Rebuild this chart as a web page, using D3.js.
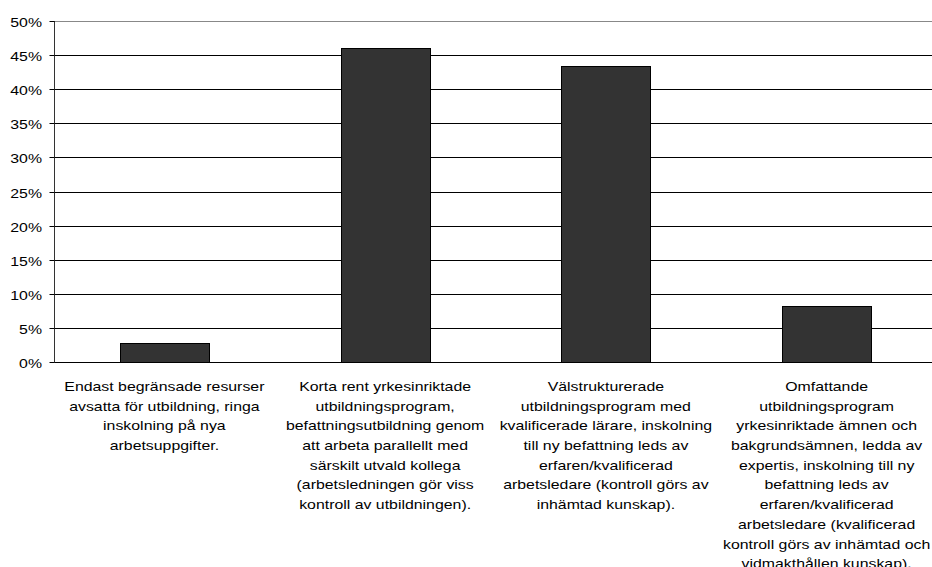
<!DOCTYPE html>
<html>
<head>
<meta charset="utf-8">
<script src="https://cdn.jsdelivr.net/npm/d3@7"></script>
<style>
  html, body { margin: 0; padding: 0; background: #fff; }
  svg { display: block; }
  text { font-family: "Liberation Sans", Arial, Helvetica, sans-serif; fill: #000; }
</style>
</head>
<body>
<svg id="chart" width="932" height="567"></svg>
<script>
// ---- Data ----
const categories = [
  ["Endast begränsade resurser", "avsatta för utbildning, ringa", "inskolning på nya", "arbetsuppgifter."],
  ["Korta rent yrkesinriktade", "utbildningsprogram,", "befattningsutbildning genom", "att arbeta parallellt med", "särskilt utvald kollega", "(arbetsledningen gör viss", "kontroll av utbildningen)."],
  ["Välstrukturerade", "utbildningsprogram med", "kvalificerade lärare, inskolning", "till ny befattning leds av", "erfaren/kvalificerad", "arbetsledare (kontroll görs av", "inhämtad kunskap)."],
  ["Omfattande", "utbildningsprogram", "yrkesinriktade ämnen och", "bakgrundsämnen, ledda av", "expertis, inskolning till ny", "befattning leds av", "erfaren/kvalificerad", "arbetsledare (kvalificerad", "kontroll görs av inhämtad och", "vidmakthållen kunskap)."]
];
const values = [2.8, 46.0, 43.4, 8.2];
const yTicks = [0, 5, 10, 15, 20, 25, 30, 35, 40, 45, 50];
const yTickLabels = ["0%", "5%", "10%", "15%", "20%", "25%", "30%", "35%", "40%", "45%", "50%"];

(function () {
  const svg = d3.select("#chart");
  const mLeft = 54, mRight = 937, mTop = 21, mBottom = 362;
  const sx = 1.22; // horizontal text stretch as in the reference
  const fontSize = 13;

  const x = d3.scaleBand().domain(d3.range(categories.length)).range([mLeft, mRight]).padding(0);
  const y = d3.scaleLinear().domain([0, 50]).range([mBottom, mTop]);

  // gridlines
  svg.append("g").selectAll("line").data(yTicks).join("line")
    .attr("x1", mLeft).attr("x2", 932)
    .attr("y1", d => Math.round(y(d)) + 0.5).attr("y2", d => Math.round(y(d)) + 0.5)
    .attr("stroke", d => d === 50 ? "#888" : "#000").attr("stroke-width", 1);

  // bars
  const barW = x.bandwidth() * 0.404;
  svg.append("g").selectAll("rect").data(values).join("rect")
    .attr("x", (d, i) => Math.round(x(i) + x.bandwidth() / 2 - barW / 2) + 0.5)
    .attr("width", Math.round(barW))
    .attr("y", d => Math.round(y(d)) + 0.5)
    .attr("height", d => Math.round(y(0)) - Math.round(y(d)))
    .attr("fill", "#333333").attr("stroke", "#000").attr("stroke-width", 1);

  // baseline
  svg.append("line").attr("x1", mLeft).attr("x2", 932)
    .attr("y1", Math.round(y(0)) + 0.5).attr("y2", Math.round(y(0)) + 0.5)
    .attr("stroke", "#000");

  // y axis
  const yAxis = d3.axisLeft(y).tickValues(yTicks).tickSize(5).tickFormat((d, i) => yTickLabels[i]);
  const ga = svg.append("g").attr("transform", `translate(${mLeft + 0.5},0)`).call(yAxis);
  ga.select(".domain").attr("stroke", "#333").attr("d", `M0,${mTop}V${mBottom + 1}`);
  ga.selectAll(".tick").attr("transform", d => `translate(0,${Math.round(y(d)) + 0.5})`);
  ga.selectAll(".tick line").attr("stroke", "#000");
  ga.selectAll(".tick text")
    .attr("x", null).attr("dy", null)
    .attr("font-size", fontSize)
    .attr("font-family", '"Liberation Sans", Arial, sans-serif')
    .attr("fill", "#000")
    .attr("text-anchor", "end")
    .attr("transform", `translate(-12.5,5) scale(${sx},1)`);

  // category labels
  const lineH = 19.7;
  const firstBase = 391;
  const lg = svg.append("g");
  categories.forEach((lines, i) => {
    const cx = x(i) + x.bandwidth() / 2;
    const t = lg.append("text")
      .attr("transform", `translate(${cx},${firstBase}) scale(${sx},1)`)
      .attr("text-anchor", "middle")
      .attr("font-size", fontSize);
    lines.forEach((ln, j) => {
      t.append("tspan").attr("x", 0).attr("y", j * lineH).text(ln);
    });
  });
})();
</script>
</body>
</html>
